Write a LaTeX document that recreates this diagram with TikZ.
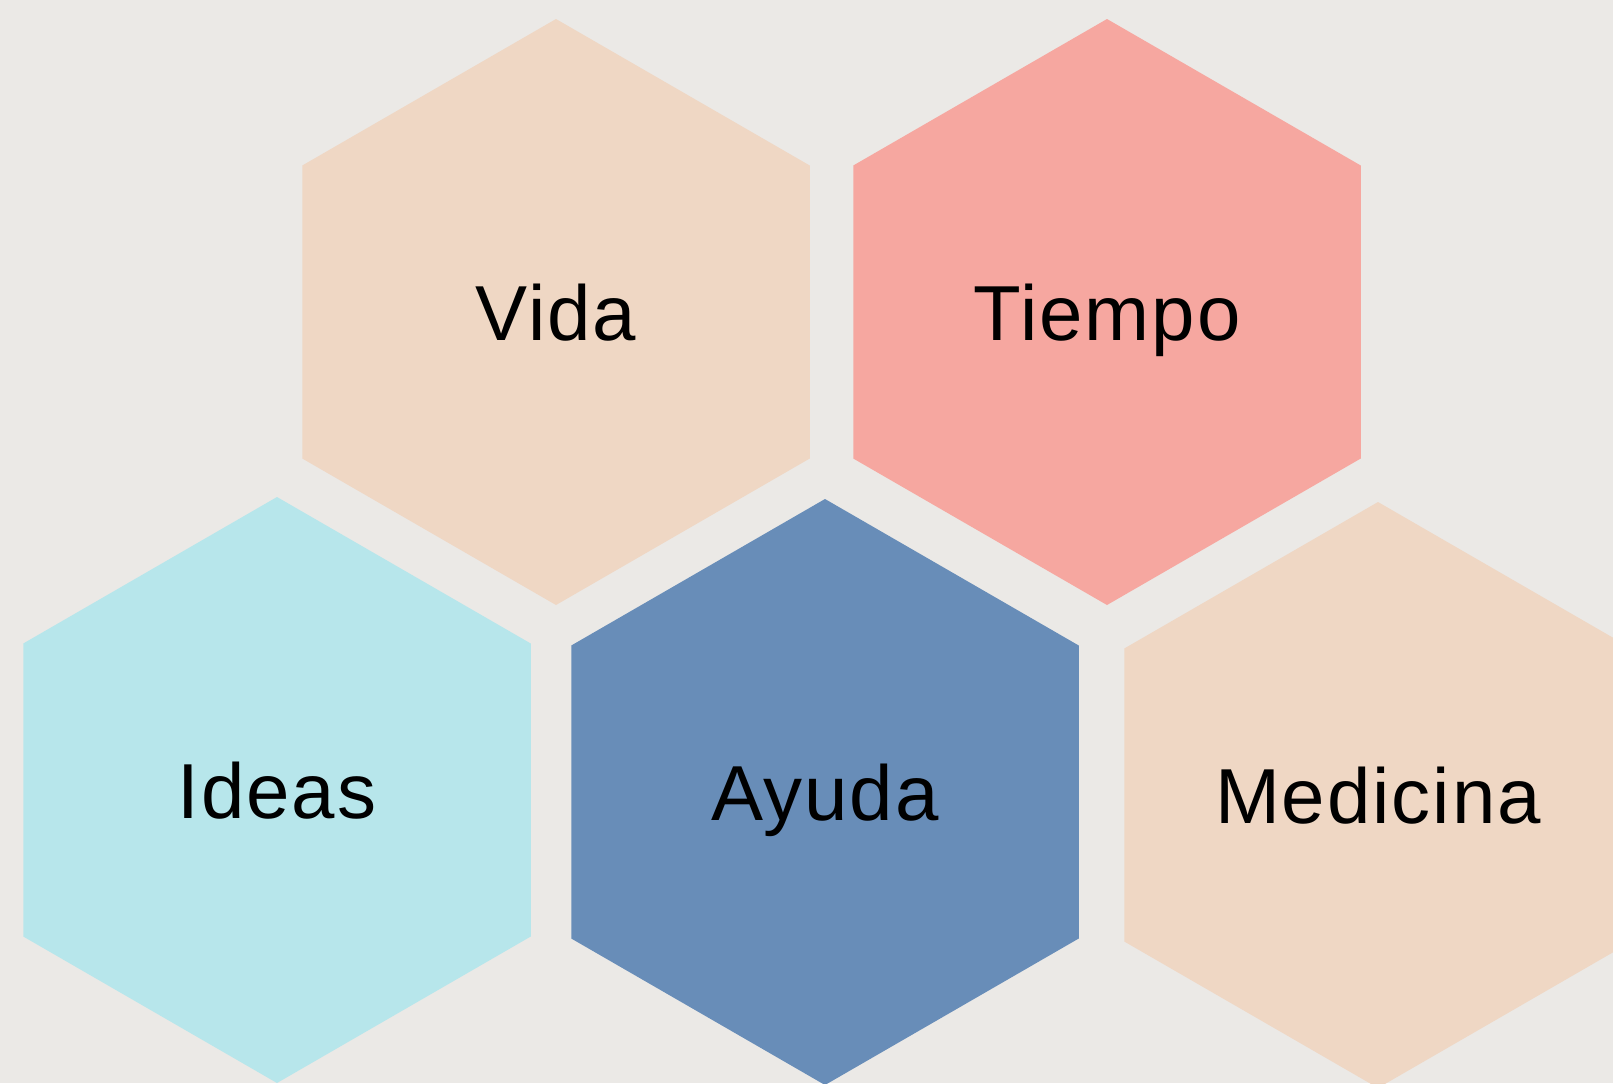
\documentclass[tikz,border=0pt]{standalone}
\usepackage{fontspec}
\setmainfont[LetterSpace=2.5]{Liberation Sans}
\usepackage{xcolor}
\usetikzlibrary{shapes}
\definecolor{fondo}{HTML}{EBE9E6}
\definecolor{durazno}{HTML}{EFD7C4}
\definecolor{salmon}{HTML}{F6A7A0}
\definecolor{celeste}{HTML}{B7E6EB}
\definecolor{azul}{HTML}{688DB8}

\begin{document}
\begin{tikzpicture}[x=0.5pt,y=-0.5pt,
   hexa/.style={regular polygon,regular polygon sides=6,shape border rotate=30,
     minimum size=293pt,inner sep=0pt,
     font=\fontsize{39}{39}\selectfont,text height=28pt,text depth=0pt}]
   \fill[fondo] (0,0) rectangle (1613,1083);
   \clip (0,0) rectangle (1613,1083);
   \node[hexa,fill=durazno] (vida)     at (556,312)  {Vida};
   \node[hexa,fill=salmon]  (tiempo)   at (1107,312) {Tiempo};
   \node[hexa,fill=celeste] (ideas)    at (277,790)  {Ideas};
   \node[hexa,fill=azul]    (ayuda)    at (825,792)  {Ayuda};
   \node[hexa,fill=durazno] (medicina) at (1378,795) {Medicina};
\end{tikzpicture}
\end{document}
